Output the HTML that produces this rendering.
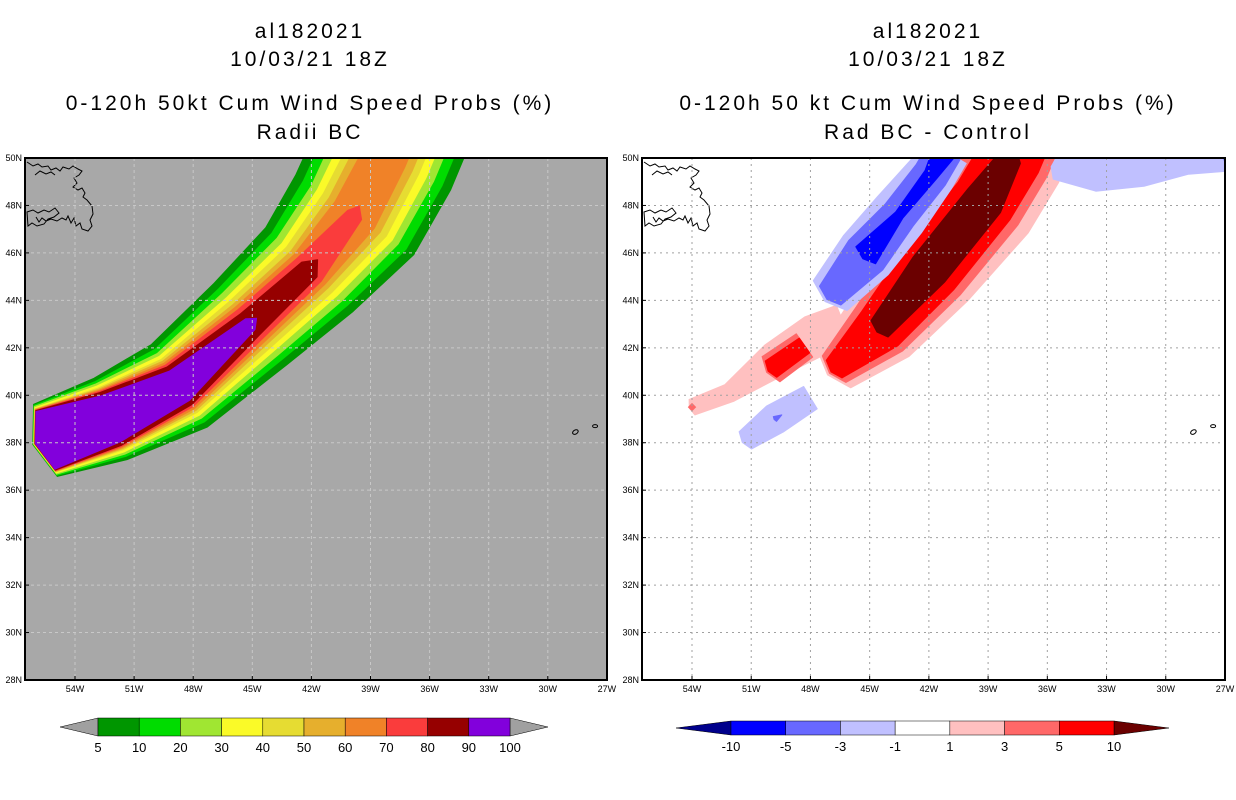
<!DOCTYPE html>
<html><head><meta charset="utf-8">
<style>
html,body{margin:0;padding:0;background:#fff;}
svg{display:block;font-family:"Liberation Sans",sans-serif;}
.t{font-size:21px;text-anchor:middle;fill:#000;letter-spacing:3px}
.tk{font-size:9px;fill:#000}
.cb{font-size:13px;text-anchor:middle;fill:#000}
</style></head>
<body>
<svg id="chart" width="1236" height="800" viewBox="0 0 1236 800" xmlns="http://www.w3.org/2000/svg">
<g>
<text class="t" x="310" y="38">al182021</text>
<text class="t" x="310" y="66">10/03/21 18Z</text>
<text class="t" x="310" y="110">0-120h 50kt Cum Wind Speed Probs (%)</text>
<text class="t" x="310" y="139">Radii BC</text>
</g>
<g>
<text class="t" x="928" y="38">al182021</text>
<text class="t" x="928" y="66">10/03/21 18Z</text>
<text class="t" x="928" y="110">0-120h 50 kt Cum Wind Speed Probs (%)</text>
<text class="t" x="928" y="139">Rad BC - Control</text>
</g>
<defs>
<clipPath id="clipL"><rect x="25" y="158" width="582" height="522"/></clipPath>
<clipPath id="clipR"><rect x="642" y="158" width="583" height="522"/></clipPath>
</defs>
<g id="left"></g>
<g id="right"></g>
<g id="cbL"></g>
<g id="cbR"></g>
</svg>
<script>
// ---- data ----
const lonTicks = [54,51,48,45,42,39,36,33,30,27];
const latTicks = [50,48,46,44,42,40,38,36,34,32,30,28];
const probLevels = [5,10,20,30,40,50,60,70,80,90,100];
const probColors = ["#009600","#00dc00","#a0e632","#fafa28","#e6dc32","#e6af2d","#f08228","#fa3c3c","#960000","#8200dc"];
// track centerline of probability band (deg W, deg N)
const trackLon = [55.5,52.2,48.7,45.1,42.1,39.8,38.3,37.5];
const trackLat = [38.1,39.0,40.4,43.0,45.3,47.6,50.0,51.6];
// half-width (deg) of each probability contour (>=5,10,...,90) at each track point [level][point]
const probHalfWidth = [
 [1.6,1.85,2.1,2.3,2.55,3.0,3.1,3.1],
 [1.55,1.7,1.85,2.0,2.2,2.6,2.7,2.7],
 [1.5,1.6,1.65,1.75,1.9,2.2,2.3,2.3],
 [1.45,1.5,1.5,1.5,1.6,1.9,1.95,1.95],
 [1.4,1.4,1.35,1.3,1.35,1.6,1.6,1.6],
 [1.38,1.35,1.25,1.1,1.1,1.3,1.3,1.3],
 [1.36,1.3,1.15,0.95,0.9,1.0,0.95,0.95],
 [1.34,1.25,1.05,0.8,0.7,0.35,0,0],
 [1.32,1.2,0.95,0.6,0.45,0,0,0],
 [1.28,1.05,0.75,0.3,0,0,0,0]
];
const diffLevels = [-10,-5,-3,-1,1,3,5,10];
const diffColors = ["#00008c","#0000ff","#6868ff","#c0c0ff","#ffffff","#ffc0c0","#ff6868","#ff0000","#6b0000"];
// positive difference ridge
const posLon = [46.8,44.5,42.0,39.2,37.9,37.1];
const posLat = [41.1,42.8,45.3,48.2,50.0,51.6];
const posHalfWidth = [[1.05,1.7,2.1,2.3,2.3,2.3],[0.75,1.35,1.7,1.75,1.75,1.75],[0.5,1.05,1.35,1.35,1.35,1.35],[0,0.5,0.85,0.85,0.5,0]];
const tailLon = [54.0,52.1,49.8,47.8,46.3];
const tailLat = [39.5,40.1,41.5,42.5,43.0];
const tailHalfWidth = [[0.35,0.4,0.75,0.9,0.85]];
const blobLon = [50.0,48.3];
const blobLat = [41.1,42.1];
const blobHalfWidth = [[0.65,0.6],[0.42,0.38]];
// negative difference lobes
const negLon = [47.0,45.2,43.5,41.9,41.2];
const negLat = [44.2,45.9,47.6,49.3,50.3];
const negHalfWidth = [[0.95,1.25,1.2,1.05,1.05],[0.6,0.95,0.75,0.75,0.75],[0,0.55,0.2,0.3,0.5]];
const neg2Lon = [51.3,49.8,48.0];
const neg2Lat = [38.1,39.0,39.9];
const neg2HalfWidth = [[0.45,0.65,0.55],[0,0.12,0]];
const neg3Lon = [35.6,33.5,31.2,29.0,27.2];
const neg3Lat = [49.6,49.3,49.4,49.8,50.3];
const neg3HalfWidth = [[0.5,0.7,0.6,0.5,0.9],[0,0,0,0,0.5]];

// ---- axes ----
const NS="http://www.w3.org/2000/svg";
const PXDEG_X=19.7, PXDEG_Y=23.727;
function xL(lon){return 75+(54-lon)*PXDEG_X;}
function xR(lon){return 692+(54-lon)*19.74;}
function yM(lat){return 158+(50-lat)*PXDEG_Y;}
function mk(tag,attrs,parent){const e=document.createElementNS(NS,tag);for(const k in attrs)e.setAttribute(k,attrs[k]);parent.appendChild(e);return e;}

function band(g,xf,lons,lats,widths,colors,name){
  const pts=lons.map((l,i)=>[xf(l),yM(lats[i])]);
  widths.forEach((ws,li)=>{
    const idx=ws.map((w,i)=>w>0?i:-1).filter(i=>i>=0);
    if(!idx.length)return;
    const top=[],bot=[];
    idx.forEach(i=>{
      const a=pts[Math.max(0,i-1)],b=pts[Math.min(pts.length-1,i+1)];
      let dx=b[0]-a[0],dy=b[1]-a[1];const n=Math.hypot(dx,dy)||1;dx/=n;dy/=n;
      const w=ws[i]*PXDEG_Y;
      top.push([pts[i][0]+dy*w,pts[i][1]-dx*w]);
      bot.push([pts[i][0]-dy*w,pts[i][1]+dx*w]);
    });
    const f=idx[0],l=idx[idx.length-1];
    const dir=(i,j)=>{let dx=pts[j][0]-pts[i][0],dy=pts[j][1]-pts[i][1];const n=Math.hypot(dx,dy)||1;return[dx/n,dy/n];};
    let poly=[];
    if(f<pts.length-1){const d=dir(f,f+1);const c=ws[f]*PXDEG_Y*0.35;poly.push([pts[f][0]-d[0]*c,pts[f][1]-d[1]*c]);}
    poly=poly.concat(top);
    if(l<pts.length-1){const d=dir(l,l+1);const c=Math.max(ws[l]*PXDEG_Y*1.2,8);poly.push([pts[l][0]+d[0]*c,pts[l][1]+d[1]*c]);}
    poly=poly.concat(bot.reverse());
    const p=mk('polygon',{points:poly.map(q=>q[0].toFixed(1)+','+q[1].toFixed(1)).join(' '),fill:colors[li],'stroke':colors[li],'stroke-width':1,'stroke-linejoin':'round'},g);
    
    
  });
}

function coast(g,x0){
  const d="M"+(x0+2)+",162 l6,4 l5,-2 l4,3 l6,-1 l3,4 l5,-2 l4,3 l3,-4 l6,2 l4,-3 l5,3 l4,2 l-3,4 l-5,3 l3,5 l-4,4 l5,3 l4,-2 l3,5 l-2,4 l4,3 l5,6 l1,8 l-3,6 l2,6 l-4,5 l-6,-2 l-2,-6 l-4,3 l-2,-8 l-3,5 l-3,-7 l-2,4 l-4,-2 l-5,3 l-6,-2 l-5,2 l-4,-3 l-3,4 l-3,-5 M"+(x0+2)+",212 l6,-2 l5,3 l6,-3 l5,2 l6,-4 l4,5 l-5,4 l-6,2 l-4,5 l-7,2 l-5,-3 l-4,3 z M"+(x0+10)+",175 l5,-4 l6,3 l5,-2 l4,3";
  const p=mk('path',{d:d,fill:'none',stroke:'#000','stroke-width':1},g);
  
  
}

function panel(g,xf,x0,x1,bg,clip,gridColor,dash,drawFields){
  mk('rect',{x:x0,y:158,width:x1-x0,height:522,fill:bg},g);
  const fg=mk('g',{'clip-path':'url(#'+clip+')'},g);
  drawFields(fg);
  coast(fg,x0);
  const isl=mk('g',{},fg);
  
  
  mk('ellipse',{cx:xf(28.6),cy:yM(38.45),rx:3,ry:2,fill:'none',stroke:'#000','stroke-width':1,transform:'rotate(-30 '+xf(28.6)+' '+yM(38.45)+')'},isl);
  mk('ellipse',{cx:xf(27.6),cy:yM(38.7),rx:2.5,ry:1.5,fill:'none',stroke:'#000','stroke-width':1},isl);
  const gr=mk('g',{stroke:gridColor,'stroke-width':1,'stroke-dasharray':dash},g);
  
  
  lonTicks.forEach(l=>{const x=xf(l);if(x>x0&&x<x1)mk('line',{x1:x,y1:158,x2:x,y2:680},gr);});
  latTicks.forEach(l=>{const y=yM(l);if(y>158&&y<680)mk('line',{x1:x0,y1:y,x2:x1,y2:y},gr);});
  mk('rect',{x:x0,y:158,width:x1-x0,height:522,fill:'none',stroke:'#000','stroke-width':2},g);
  const ax=mk('g',{},g);
  
  
  lonTicks.forEach(l=>{const x=xf(l);
    mk('line',{x1:x,y1:680,x2:x,y2:676,stroke:'#000'},ax);
    const t=mk('text',{x:x,y:692,'text-anchor':'middle',class:'tk'},ax);t.textContent=l+'W';
    
  });
  latTicks.forEach(l=>{const y=yM(l);
    mk('line',{x1:x0,y1:y,x2:x0+4,y2:y,stroke:'#000'},ax);
    const t=mk('text',{x:x0-3,y:y+3,'text-anchor':'end',class:'tk'},ax);t.textContent=l+'N';
    
  });
}

panel(document.getElementById('left'),xL,25,607,'#a8a8a8','clipL','#c8c8c8','3,3',fg=>{
  band(fg,xL,trackLon,trackLat,probHalfWidth,probColors,'prob');
});
panel(document.getElementById('right'),xR,642,1225,'#ffffff','clipR','#a0a0a0','2,4',fg=>{
  band(fg,xR,tailLon,tailLat,tailHalfWidth,["#ffc0c0"],'diff-tail');
  band(fg,xR,posLon,posLat,posHalfWidth,["#ffc0c0","#ff6868","#ff0000","#6b0000"],'diff-pos');
  band(fg,xR,blobLon,blobLat,blobHalfWidth,["#ff6868","#ff0000"],'diff-blob');
  band(fg,xR,negLon,negLat,negHalfWidth,["#c0c0ff","#6868ff","#0000ff"],'diff-neg');
  band(fg,xR,neg2Lon,neg2Lat,neg2HalfWidth,["#c0c0ff","#6868ff"],'diff-neg-sw');
  band(fg,xR,neg3Lon,neg3Lat,neg3HalfWidth,["#c0c0ff","#6868ff"],'diff-neg-ne');
  const d=mk('rect',{x:xR(54)-3,y:yM(39.5)-3,width:6,height:6,fill:'#ff6868',transform:'rotate(45 '+xR(54)+' '+yM(39.5)+')'},fg);
  
  
});

// colorbars
function colorbar(g,x0,x1,y0,h,tri,labels,colors,triL,triR){
  const n=labels.length-1,w=(x1-x0)/n;
  mk('polygon',{points:`${x0},${y0} ${x0-tri},${y0+h/2} ${x0},${y0+h}`,fill:triL,stroke:'#000','stroke-width':0.5},g);
  mk('polygon',{points:`${x1},${y0} ${x1+tri},${y0+h/2} ${x1},${y0+h}`,fill:triR,stroke:'#000','stroke-width':0.5},g);
  for(let i=0;i<n;i++){
    const r=mk('rect',{x:x0+i*w,y:y0,width:w,height:h,fill:colors[i],stroke:'#000','stroke-width':0.5},g);
    
    
  }
  labels.forEach((l,i)=>{const t=mk('text',{x:x0+i*w,y:y0+h+16,class:'cb'},g);t.textContent=l;
    });
}
colorbar(document.getElementById('cbL'),98,510,718,18,38,probLevels,probColors,'#a0a0a0','#a0a0a0');
colorbar(document.getElementById('cbR'),731,1114,721,14,55,diffLevels,diffColors.slice(1,8),diffColors[0],diffColors[8]);
</script>
</body></html>
